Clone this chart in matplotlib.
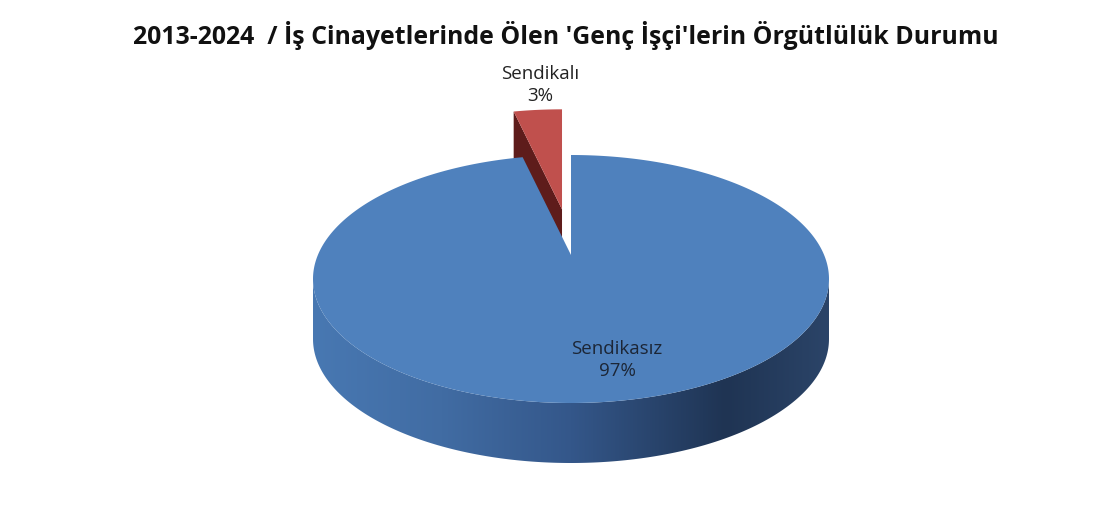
import numpy as np
import matplotlib
matplotlib.use("Agg")
import matplotlib.pyplot as plt
from matplotlib.patches import Polygon
from matplotlib.colors import LinearSegmentedColormap

# data
categories = ["Sendikasız", "Sendikalı"]
values = [97, 3]
pct_labels = ["97%", "3%"]
title = "2013-2024  / İş Cinayetlerinde Ölen 'Genç İşçi'lerin Örgütlülük Durumu"

# geometry of the fake 3d pie (pixel space, y down)
cx, cy = 571, 279
rx, ry = 258, 124
apex_y = 255          # perspective: slice apex sits a bit above ellipse centre
depth = 60
explode = [0.0, 0.37]

fig = plt.figure(figsize=(10.99, 5.15), dpi=100)
ax = fig.add_axes([0, 0, 1, 1])
ax.set_xlim(0, 1099)
ax.set_ylim(515, 0)
ax.axis("off")


def pt(phi, off=(0, 0)):
    # phi: clockwise angle from 12 o'clock, degrees
    p = np.radians(phi)
    return cx + rx * np.sin(p) + off[0], cy - ry * np.cos(p) + off[1]


# slice angles: first slice starts at 12 o'clock, clockwise
total = float(sum(values))
starts, ends = [], []
a = 0.0
for v in values:
    starts.append(a)
    a += 360.0 * v / total
    ends.append(a)

offsets = []
for i in range(len(values)):
    mid = np.radians((starts[i] + ends[i]) / 2)
    offsets.append((rx * explode[i] * np.sin(mid), -ry * explode[i] * np.cos(mid)))

# ---- red slice (behind), cut face + top
s, e, off = starts[1], ends[1], offsets[1]
tip = (cx + off[0], apex_y + off[1])
p0 = pt(s, off)
cut = [p0, tip, (tip[0], tip[1] + depth), (p0[0], p0[1] + depth)]
ax.add_patch(Polygon(cut, closed=True, facecolor="#5e1c1b", edgecolor="none", zorder=1))
phis = np.linspace(s, e, 30)
top_red = [tip] + [pt(f, off) for f in phis]
ax.add_patch(Polygon(top_red, closed=True, facecolor="#c0504d", edgecolor="none", zorder=2))

# ---- blue slice side with gradient
s, e, off = starts[0], ends[0], offsets[0]
phis = np.linspace(90, 270, 200)
upper = [pt(f, off) for f in phis]
lower = [(x, y + depth) for x, y in upper[::-1]]
side = Polygon(upper + lower, closed=True, facecolor="none", edgecolor="none")
ax.add_patch(side)
side_cmap = LinearSegmentedColormap.from_list(
    "side", [(0.0, "#4878b2"), (0.25, "#416ca3"), (0.5, "#34578a"),
             (0.8, "#1f3453"), (1.0, "#2b4468")])
grad = np.linspace(0, 1, 256).reshape(1, -1)
im = ax.imshow(grad, cmap=side_cmap, aspect="auto",
               extent=(cx - rx, cx + rx, cy + ry + depth + 2, cy - 5), zorder=3)
im.set_clip_path(side)

# blue top face
phis = np.linspace(s, e, 400)
top_blue = [(cx + off[0], apex_y + off[1])] + [pt(f, off) for f in phis]
ax.add_patch(Polygon(top_blue, closed=True, facecolor="#4f81bd", edgecolor="none", zorder=4))

# labels
ax.text(617, 360, categories[0] + "\n" + pct_labels[0], ha="center", va="center",
        fontsize=13.5, color="#1c2636", family="Open Sans", linespacing=1.35, zorder=5)
ax.text(540, 85, categories[1] + "\n" + pct_labels[1], ha="center", va="center",
        fontsize=13.5, color="#222222", family="Open Sans", linespacing=1.35, zorder=5)

ax.text(566, 35, title, ha="center", va="center", fontsize=17.9,
        fontweight="bold", color="#111111", family="Open Sans")

fig.savefig("out.png", dpi=100)
